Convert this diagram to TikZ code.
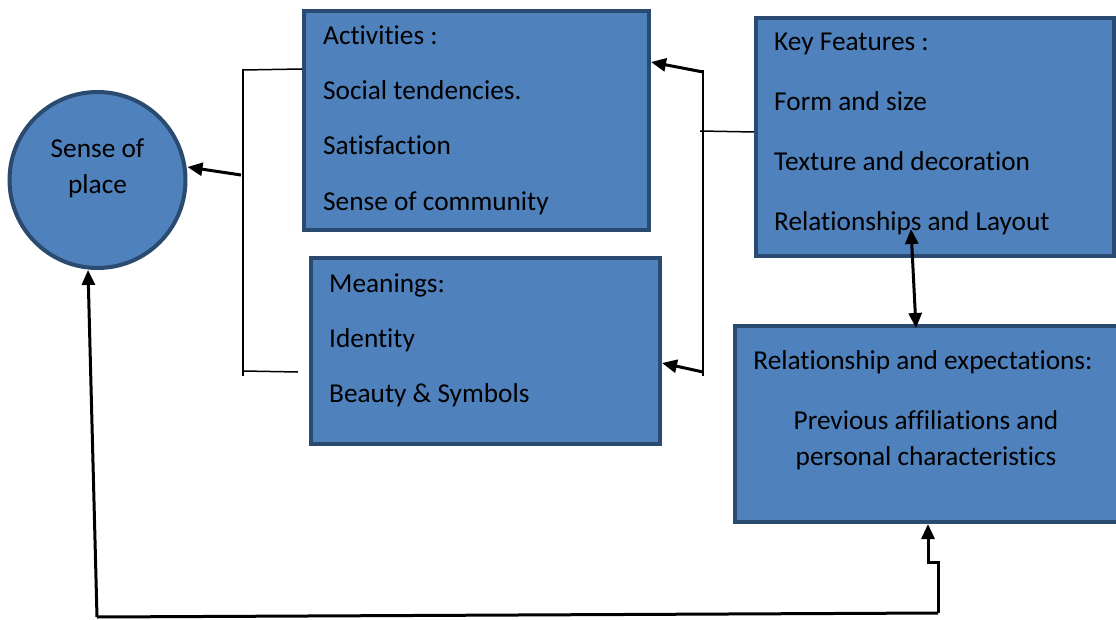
\documentclass[tikz,border=0pt]{standalone}
\usepackage{fontspec}
\setmainfont{Carlito}[Ligatures={NoCommon}]
\usetikzlibrary{arrows.meta}
\definecolor{boxfill}{HTML}{4F81BD}
\definecolor{boxline}{HTML}{2A4A70}
\begin{document}
\begin{tikzpicture}[x=1pt,y=-1pt,
  box/.style={draw=boxline,fill=boxfill,line width=4pt,rectangle,inner sep=0pt,anchor=north west},
  txt/.style={anchor=base west,inner sep=0pt,font=\fontsize{27.3}{32}\selectfont},
  ctxt/.style={anchor=base,inner sep=0pt,font=\fontsize{27.3}{32}\selectfont},
  thin/.style={line width=1.5pt,black},
  arr/.style={line width=3pt,black,-{Triangle[length=15pt,width=13pt]}},
  darr/.style={line width=3pt,black,{Triangle[length=15pt,width=13pt]}-{Triangle[length=15pt,width=13pt]}},
  plain/.style={line width=3pt,black}]
\useasboundingbox (0,0) rectangle (1116,620);
% shapes
\node[draw=boxline,fill=boxfill,line width=4pt,circle,minimum size=176pt,inner sep=0pt] (sop) at (97.5,180) {};
\node[box,minimum width=345pt,minimum height=219pt] (act) at (302,9) {};
\node[box,minimum width=349pt,minimum height=186pt] (mean) at (309,256) {};
\node[box,minimum width=358pt,minimum height=238pt] (key) at (754,16) {};
\node[box,minimum width=392pt,minimum height=196pt] (rel) at (733,324) {};
% texts
\node[ctxt] (t1) at (97.5,158) {Sense of};
\node[ctxt] (t2) at (97.5,194) {place};
\node[txt] (a1) at (323,45) {Activities :};
\node[txt] (a2) at (323,100) {Social tendencies.};
\node[txt] (a3) at (323,155) {Satisfaction};
\node[txt] (a4) at (323,211) {Sense of community};
\node[txt] (m1) at (329,292) {Meanings:};
\node[txt] (m2) at (329,347) {Identity};
\node[txt] (m3) at (329,402) {Beauty \& Symbols};
\node[txt] (k1) at (774,51) {Key Features :};
\node[txt] (k2) at (774,111) {Form and size};
\node[txt] (k3) at (774,171) {Texture and decoration};
\node[txt] (k4) at (774,231) {Relationships and Layout};
\node[ctxt] (r1) at (923,369) {Relationship and expectations:};
\node[ctxt] (r2) at (926,429) {Previous affiliations and};
\node[ctxt] (r3) at (926,465) {personal characteristics};
% left bracket
\coordinate (lbt) at (243,70);
\coordinate (lbb) at (243,376);
\coordinate (lbm) at (241,175);
\draw[thin] (243,69) -- (lbb);
\draw[thin] (lbt) -- (act.west |- 0,69);
\draw[thin] (243,371) -- (298,372);
\draw[arr] (lbm) -- (sop.east |- 0,167) ;
% right bracket
\coordinate (rbt) at (703,70);
\coordinate (rbb) at (703,376);
\draw[thin] (rbt) -- (rbb);
\draw[thin] (700,131) -- (key.west |- 0,132);
\draw[arr] (703,72) -- (act.east |- 0,62);
\draw[arr] (703,372) -- (mean.east |- 0,363);
% double arrow
\draw[darr] (911,229) -- (916,328);
% bottom loop
\coordinate (bl) at (97,617);
\coordinate (br) at (938,613);
\draw[plain] (bl) -- (br);
\draw[arr] (bl) -- (sop.south -| 88,0);
\draw[arr] (br) -- (938,562) -- (928,562) -- (rel.south -| 928,0);
\end{tikzpicture}
\end{document}
